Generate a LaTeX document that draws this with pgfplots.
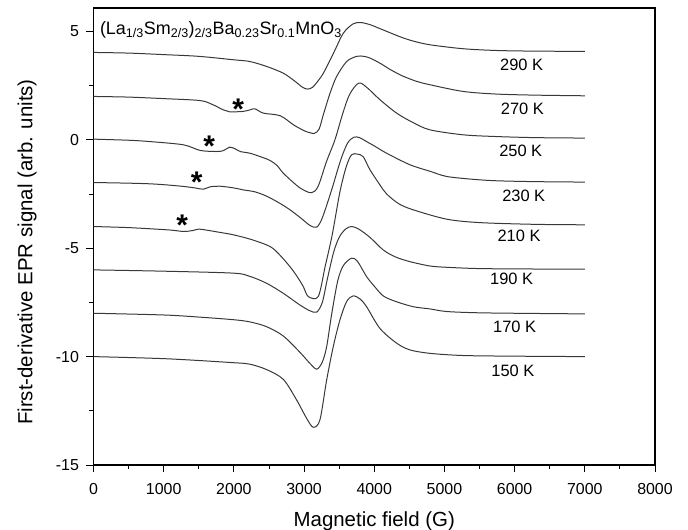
\documentclass[border=0pt]{standalone}
\usepackage{fontspec}
\setmainfont{Liberation Sans}
\usepackage{pgfplots}
\pgfplotsset{compat=1.18}
\pgfplotsset{epr/.style={smooth, tension=0.5, line width=1bp, color=black!78, mark=none, solid}}
\begin{document}
\begin{tikzpicture}
\begin{axis}[
  at={(0,0)}, anchor=south west,
  scale only axis, width=561.5bp, height=457bp,
  xmin=0, xmax=8000, ymin=-15, ymax=6.08,
  xtick={0,1000,...,8000}, ytick={-15,-10,-5,0,5},
  minor x tick num=1, minor y tick num=1,
  tick pos=left, tick align=outside,
  major tick length=7bp, minor tick length=4bp,
  every tick/.style={line width=0.9bp, black},
  axis line style={line width=1.3bp},
  tick label style={font=\fontsize{16}{19}\selectfont},
  xticklabel style={yshift=-8bp},
  yticklabel style={xshift=-4bp},
  /pgf/number format/assume math mode=true,
  /pgf/number format/set thousands separator={},
  xlabel={Magnetic field (G)},
  ylabel={First-derivative EPR signal (arb. units)},
  label style={font=\fontsize{20.5}{24}\selectfont},
  xlabel style={at={(axis description cs:0.5,-0.124)}, anchor=center},
  ylabel style={at={(axis description cs:-0.1184,0.466)}, anchor=center},
  clip=false,
]
% 290 K
\addplot[epr] coordinates {(0,4.03)(500,4.0)(1000,3.93)(1500,3.85)(2000,3.69)(2230,3.61)(2470,3.38)(2700,3.08)(2850,2.75)(2980,2.42)(3050,2.34)(3120,2.42)(3200,2.72)(3280,3.1)(3420,4.0)(3560,4.92)(3700,5.35)(3810,5.41)(3950,5.3)(4080,5.13)(4370,4.75)(4560,4.55)(4800,4.38)(5270,4.2)(5740,4.12)(6300,4.09)(7000,4.08)};
% 270 K
\addplot[epr] coordinates {(0,2.0)(500,1.97)(1000,1.9)(1520,1.81)(1700,1.62)(1850,1.38)(1940,1.29)(2130,1.31)(2230,1.38)(2300,1.43)(2420,1.23)(2660,1.11)(2850,0.69)(3000,0.42)(3080,0.33)(3150,0.3)(3215,0.5)(3274,1.15)(3370,2.15)(3464,2.92)(3607,3.61)(3750,3.85)(3850,3.85)(3940,3.77)(4100,3.5)(4223,3.25)(4400,2.95)(4600,2.7)(4793,2.54)(5268,2.23)(5743,2.11)(6300,2.06)(7000,2.03)};
% 250 K
\addplot[epr] coordinates {(0,0.03)(500,-0.02)(800,-0.08)(1280,-0.23)(1520,-0.49)(1750,-0.54)(1850,-0.5)(1940,-0.34)(2020,-0.42)(2090,-0.54)(2230,-0.62)(2370,-0.77)(2514,-0.95)(2620,-1.2)(2704,-1.54)(2894,-2.1)(3000,-2.33)(3110,-2.44)(3200,-2.15)(3320,-1.0)(3440,0.0)(3550,1.2)(3650,2.1)(3780,2.62)(3900,2.4)(4081,1.85)(4319,1.23)(4550,0.8)(4793,0.46)(5268,0.23)(5743,0.15)(6300,0.1)(7000,0.08)};
% 230 K
\addplot[epr] coordinates {(0,-1.97)(500,-2.0)(805,-2.03)(1042,-2.08)(1280,-2.15)(1450,-2.22)(1564,-2.28)(1660,-2.17)(1800,-2.14)(2000,-2.22)(2134,-2.31)(2300,-2.4)(2467,-2.6)(2650,-2.92)(2800,-3.23)(2950,-3.6)(3084,-3.95)(3180,-4.03)(3260,-3.6)(3393,-2.31)(3520,-0.95)(3620,-0.15)(3710,0.12)(3790,0.1)(3890,-0.08)(4010,-0.3)(4177,-0.62)(4508,-1.15)(4793,-1.45)(5031,-1.69)(5400,-1.82)(5743,-1.89)(6300,-1.93)(7000,-1.95)};
% 210 K
\addplot[epr] coordinates {(0,-4.0)(500,-4.05)(1042,-4.15)(1200,-4.2)(1300,-4.23)(1420,-4.18)(1500,-4.12)(1600,-4.16)(1800,-4.27)(1991,-4.38)(2250,-4.6)(2514,-4.92)(2650,-5.3)(2799,-5.85)(2900,-6.3)(2989,-6.77)(3060,-7.23)(3202,-7.23)(3300,-5.85)(3400,-4.4)(3511,-2.4)(3600,-1.25)(3677,-0.69)(3760,-0.66)(3843,-0.78)(3939,-1.38)(4081,-2.08)(4177,-2.5)(4350,-2.95)(4556,-3.23)(5031,-3.66)(5506,-3.82)(6300,-3.9)(7000,-3.92)};
% 190 K
\addplot[epr] coordinates {(0,-6.0)(1000,-6.06)(1991,-6.15)(2229,-6.3)(2467,-6.62)(2704,-7.08)(2941,-7.62)(3080,-7.88)(3180,-7.95)(3260,-7.5)(3330,-6.45)(3420,-5.2)(3500,-4.5)(3590,-4.12)(3677,-4.0)(3780,-4.12)(3939,-4.5)(4128,-5.08)(4300,-5.4)(4508,-5.62)(4793,-5.82)(5031,-5.88)(5500,-5.94)(6300,-5.96)(7000,-5.97)};
% 170 K
\addplot[epr] coordinates {(0,-8.0)(1000,-8.08)(1517,-8.18)(2000,-8.3)(2229,-8.4)(2467,-8.62)(2704,-9.05)(2941,-9.8)(3080,-10.3)(3180,-10.58)(3260,-10.25)(3322,-9.54)(3393,-8.05)(3480,-6.5)(3560,-5.8)(3677,-5.46)(3760,-5.6)(3891,-6.31)(4000,-6.75)(4128,-7.2)(4300,-7.45)(4556,-7.7)(4793,-7.8)(5031,-7.92)(5500,-7.98)(6300,-8.01)(7000,-8.03)};
% 150 K
\addplot[epr] coordinates {(0,-10.0)(1042,-10.1)(1991,-10.28)(2229,-10.35)(2467,-10.6)(2704,-11.05)(2894,-12.0)(3037,-12.85)(3131,-13.26)(3226,-12.92)(3322,-11.08)(3416,-9.54)(3511,-8.31)(3607,-7.46)(3701,-7.2)(3800,-7.35)(3891,-7.7)(4081,-8.7)(4319,-9.38)(4508,-9.69)(4793,-9.85)(5268,-9.95)(6000,-9.98)(7000,-10.0)};

\node[anchor=base west, inner sep=0, font=\fontsize{18}{21}\selectfont] at (axis cs:90,4.85) {(La\textsubscript{1/3}Sm\textsubscript{2/3})\textsubscript{2/3}Ba\textsubscript{0.23}Sr\textsubscript{0.1}MnO\textsubscript{3}};

\begin{scope}[every node/.style={font=\fontsize{16.5}{19}\selectfont, inner sep=0}]
\node at (axis cs:6100,3.46) {290 K};
\node at (axis cs:6110,1.45) {270 K};
\node at (axis cs:6087,-0.52) {250 K};
\node at (axis cs:6130,-2.58) {230 K};
\node at (axis cs:6063,-4.42) {210 K};
\node at (axis cs:5957,-6.42) {190 K};
\node at (axis cs:6000,-8.65) {170 K};
\node at (axis cs:5976,-10.65) {150 K};
\end{scope}

\begin{scope}[every node/.style={font=\bfseries\fontsize{30}{34}\selectfont, inner sep=0, anchor=base, yshift=-16.8bp}]
\node at (axis cs:2063,1.72) {*};
\node at (axis cs:1650,0.0) {*};
\node at (axis cs:1470,-1.66) {*};
\node at (axis cs:1265,-3.66) {*};
\end{scope}
\end{axis}
\pgfresetboundingbox
\useasboundingbox (-93.5bp,-65bp) rectangle (594.5bp,465bp);
\end{tikzpicture}
\end{document}
